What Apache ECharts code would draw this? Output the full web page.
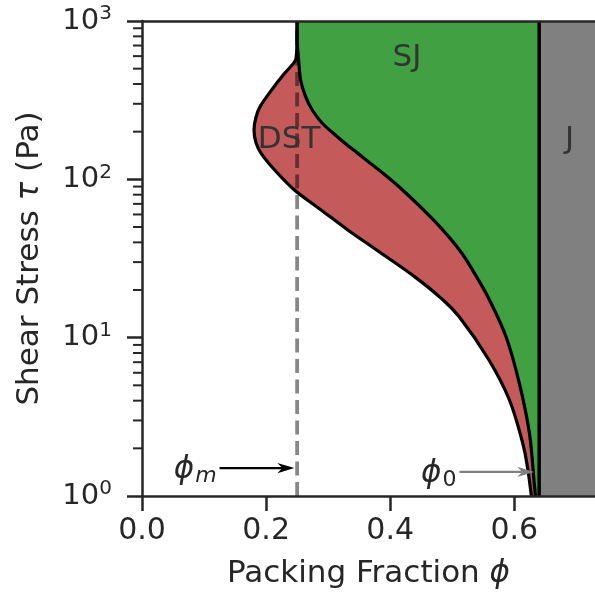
<!DOCTYPE html>
<html><head><meta charset="utf-8">
<script src="https://cdn.jsdelivr.net/npm/echarts@6/dist/echarts.min.js"></script>
<style>html,body{margin:0;padding:0;background:#fff}#c{width:595px;height:597px}</style>
</head><body><div id="c"></div>
<script>
// ---- axes ----
const xMin = 0, xMax = 0.73, xInterval = 0.2;
const tauMin = 1, tauMax = 1000;
const xTickLabels = ['0.0', '0.2', '0.4', '0.6'];
const yTickExponents = [0, 1, 2, 3];
const minorTau = [2,3,4,5,6,7,8,9,20,30,40,50,60,70,80,90,200,300,400,500,600,700,800,900];

// ---- phase boundaries ----
const phiM = 0.25, phi0 = 0.64;
const upperPhi = [0.250, 0.2499, 0.252, 0.2556, 0.2636, 0.2744, 0.2905, 0.3147, 0.341, 0.3812, 0.4198, 0.4697, 0.5116, 0.5374, 0.560, 0.5868, 0.608, 0.6243, 0.632, 0.634];
const upperTau = [1000, 759, 593, 424, 333, 274, 226, 186, 153, 115, 85.7, 55.4, 35.8, 24.9, 17.3, 10.1, 5.17, 2.50, 1.21, 1];
const lowerPhi = [0.250, 0.2496, 0.2488, 0.2459, 0.2298, 0.2089, 0.1903, 0.1835, 0.1805, 0.1838, 0.192, 0.2134, 0.2456, 0.2886, 0.3316, 0.378, 0.4391, 0.4794, 0.5108, 0.5591, 0.5921, 0.6135, 0.6219, 0.6275];
const lowerTau = [1000, 705, 610, 551, 467, 367, 288, 245, 205, 170, 146, 115, 85.7, 64.1, 47.9, 35.8, 24.3, 18.1, 13.6, 7.23, 4.04, 2.16, 1.46, 1];

// ---- region labels ----
const regionNames = ['SJ', 'DST', 'J'];
const regionLabelPhi = [0.427, 0.237, 0.689];
const regionLabelTau = [581, 177, 177];

// ---- arrow annotations ----
const arrowSub = ['m', '0'];
const arrowFromPhi = [0.125, 0.5116];
const arrowToPhi = [0.2455, 0.632];
const arrowTau = [1.50, 1.42];

const FONT = 'DejaVu Sans';
const TXT = '#262626';
const PHI = '\u03D5';
const upper = upperPhi.map((p, i) => [p, upperTau[i]]);
const lower = lowerPhi.map((p, i) => [p, lowerTau[i]]);

// smooth path (Catmull-Rom as cubic Bezier) through pixel points
function splinePath(pts, start) {
  const n = pts.length;
  let d = (start ? 'M' : 'L') + pts[0][0] + ' ' + pts[0][1];
  for (let i = 0; i < n - 1; i++) {
    const p0 = pts[Math.max(i - 1, 0)], p1 = pts[i], p2 = pts[i + 1], p3 = pts[Math.min(i + 2, n - 1)];
    const c1 = [p1[0] + (p2[0] - p0[0]) / 6, p1[1] + (p2[1] - p0[1]) / 6];
    const c2 = [p2[0] - (p3[0] - p1[0]) / 6, p2[1] - (p3[1] - p1[1]) / 6];
    d += ' C' + c1[0] + ' ' + c1[1] + ' ' + c2[0] + ' ' + c2[1] + ' ' + p2[0] + ' ' + p2[1];
  }
  return d;
}
function linePath(pts) { return pts.map(p => ' L' + p[0] + ' ' + p[1]).join(''); }

const regionOrder = ['J', 'SJ', 'DST'];
const regionColors = { J: '#808080', SJ: '#41a041', DST: '#c45a5a' };

const chart = echarts.init(document.getElementById('c'), null, { renderer: 'canvas' });
chart.setOption({
  animation: false,
  backgroundColor: '#ffffff',
  grid: { left: 142, top: 21, width: 453, height: 475, containLabel: false },
  xAxis: [{
    type: 'value', min: xMin, max: xMax, interval: xInterval, z: 10,
    axisLine: { show: true, onZero: false, lineStyle: { color: TXT, width: 2.5 } },
    axisTick: { show: true, length: 15, lineStyle: { color: TXT, width: 2.5 } },
    splitLine: { show: false },
    axisLabel: { fontFamily: FONT, fontSize: 30, color: TXT, margin: 20, showMaxLabel: false,
      formatter: v => { const i = Math.round(v / xInterval); return xTickLabels[i] !== undefined ? xTickLabels[i] : ''; } },
    name: '{n|Packing Fraction }{i|' + PHI + '}', nameLocation: 'middle', nameGap: 62,
    nameTextStyle: { rich: { n: { fontFamily: FONT, fontSize: 31, color: TXT }, i: { fontFamily: FONT, fontSize: 31, color: TXT, fontStyle: 'italic' } } }
  }, {
    type: 'value', min: xMin, max: xMax, position: 'top', z: 10,
    axisLine: { show: true, onZero: false, lineStyle: { color: TXT, width: 2.5 } },
    axisTick: { show: false }, axisLabel: { show: false }, splitLine: { show: false }
  }],
  yAxis: {
    type: 'log', logBase: 10, min: tauMin, max: tauMax, z: 10,
    axisLine: { show: true, onZero: false, lineStyle: { color: TXT, width: 2.5 } },
    axisTick: { show: true, length: 15, lineStyle: { color: TXT, width: 2.5 } },
    splitLine: { show: false },
    axisLabel: { margin: 30,
      formatter: v => '{b|10}{s|' + yTickExponents[Math.round(Math.log10(v))] + '}',
      rich: { b: { fontFamily: FONT, fontSize: 29, color: TXT }, s: { fontFamily: FONT, fontSize: 20, color: TXT, padding: [0, 0, 14, 0] } } },
    name: '{n|Shear Stress }{i|\u03C4}{n| (Pa)}', nameLocation: 'middle', nameGap: 97, nameRotate: 90,
    nameTextStyle: { rich: { n: { fontFamily: FONT, fontSize: 31, color: TXT }, i: { fontFamily: FONT, fontSize: 31, color: TXT, fontStyle: 'italic' } } }
  },
  series: [
    { type: 'custom', name: 'regions', z: 1, silent: true,
      data: regionOrder.map(n => ({ name: n, value: [phi0, tauMin] })),
      renderItem: (params, api) => {
        const n = regionOrder[params.dataIndex];
        const up = upper.map(d => api.coord(d));
        const lo = lower.map(d => api.coord(d));
        let d;
        if (n === 'J') {
          d = 'M' + api.coord([phi0, tauMin]).join(' ') + linePath([api.coord([xMax, tauMin]), api.coord([xMax, tauMax]), api.coord([phi0, tauMax])]) + ' Z';
        } else if (n === 'SJ') {
          d = splinePath(up, true) + linePath([api.coord([phi0, tauMin]), api.coord([phi0, tauMax])]) + ' Z';
        } else {
          d = splinePath(lo, true) + ' ' + splinePath(up.slice().reverse(), false) + ' Z';
        }
        return { type: 'path', shape: { pathData: d }, style: { fill: regionColors[n], stroke: null } };
      } },
    { type: 'line', name: 'phiM', z: 2, silent: true, showSymbol: false, symbol: 'none',
      data: [[phiM, tauMin], [phiM, tauMax]],
      lineStyle: { color: 'rgba(0,0,0,0.47)', width: 3.8, type: [14, 6.5] } },
    { type: 'line', name: 'phi0', z: 3, silent: true, showSymbol: false, symbol: 'none',
      data: [[phi0, tauMin], [phi0, tauMax]],
      lineStyle: { color: '#000', width: 3.5 } },
    { type: 'custom', name: 'boundaries', z: 3, silent: true,
      data: [{ name: 'upper', value: [phiM, tauMax] }, { name: 'lower', value: [phiM, tauMax] }],
      renderItem: (params, api) => {
        const src = params.dataIndex === 0 ? upper : lower;
        const d = splinePath(src.map(p => api.coord(p)), true);
        return { type: 'path', shape: { pathData: d }, style: { fill: null, stroke: '#000', lineWidth: 3.2, lineJoin: 'round' } };
      } },
    { type: 'custom', name: 'minorTicks', z: 11, silent: true, clip: false,
      data: minorTau.map(t => [xMin, t]),
      renderItem: (params, api) => {
        const p = api.coord([api.value(0), api.value(1)]);
        return { type: 'line', shape: { x1: p[0] - 9, y1: p[1], x2: p[0], y2: p[1] }, style: { stroke: TXT, lineWidth: 2 } };
      } },
    { type: 'custom', name: 'regionLabels', z: 5, silent: true,
      data: regionNames.map((n, i) => [regionLabelPhi[i], regionLabelTau[i]]),
      renderItem: (params, api) => {
        const p = api.coord([api.value(0), api.value(1)]);
        return { type: 'text', x: p[0], y: p[1], style: { text: regionNames[params.dataIndex], fontFamily: FONT, fontSize: 31, fill: '#333', align: 'center', verticalAlign: 'middle' } };
      } },
    { type: 'custom', name: 'arrows', z: 6, silent: true, clip: false,
      data: arrowSub.map((s, i) => [arrowFromPhi[i], arrowTau[i], arrowToPhi[i]]),
      renderItem: (params, api) => {
        const i = params.dataIndex;
        const a = api.coord([api.value(0), api.value(1)]);
        const b = api.coord([api.value(2), api.value(1)]);
        const col = i === 0 ? '#000000' : '#808080';
        const L = 17, W = 5.2, N = 5;
        const tx = b[0], ty = b[1];
        const sub = arrowSub[i];
        return { type: 'group', children: [
          { type: 'line', shape: { x1: a[0], y1: a[1], x2: tx - L + N, y2: ty }, style: { stroke: col, lineWidth: 2.2 } },
          { type: 'polygon', shape: { points: [[tx, ty], [tx - L, ty - W], [tx - L + N, ty], [tx - L, ty + W]] }, style: { fill: col } },
          { type: 'text', x: a[0] - 3, y: a[1] + 2, style: {
              text: '{p|' + PHI + '}{s|' + sub + '}', align: 'right', verticalAlign: 'middle',
              rich: { p: { fontFamily: FONT, fontSize: 31, fill: TXT, fontStyle: 'italic' },
                      s: { fontFamily: FONT, fontSize: 22, fill: TXT, fontStyle: sub === 'm' ? 'italic' : 'normal', padding: [12, 0, 0, 1] } } } }
        ] };
      } }
  ]
});
</script></body></html>
